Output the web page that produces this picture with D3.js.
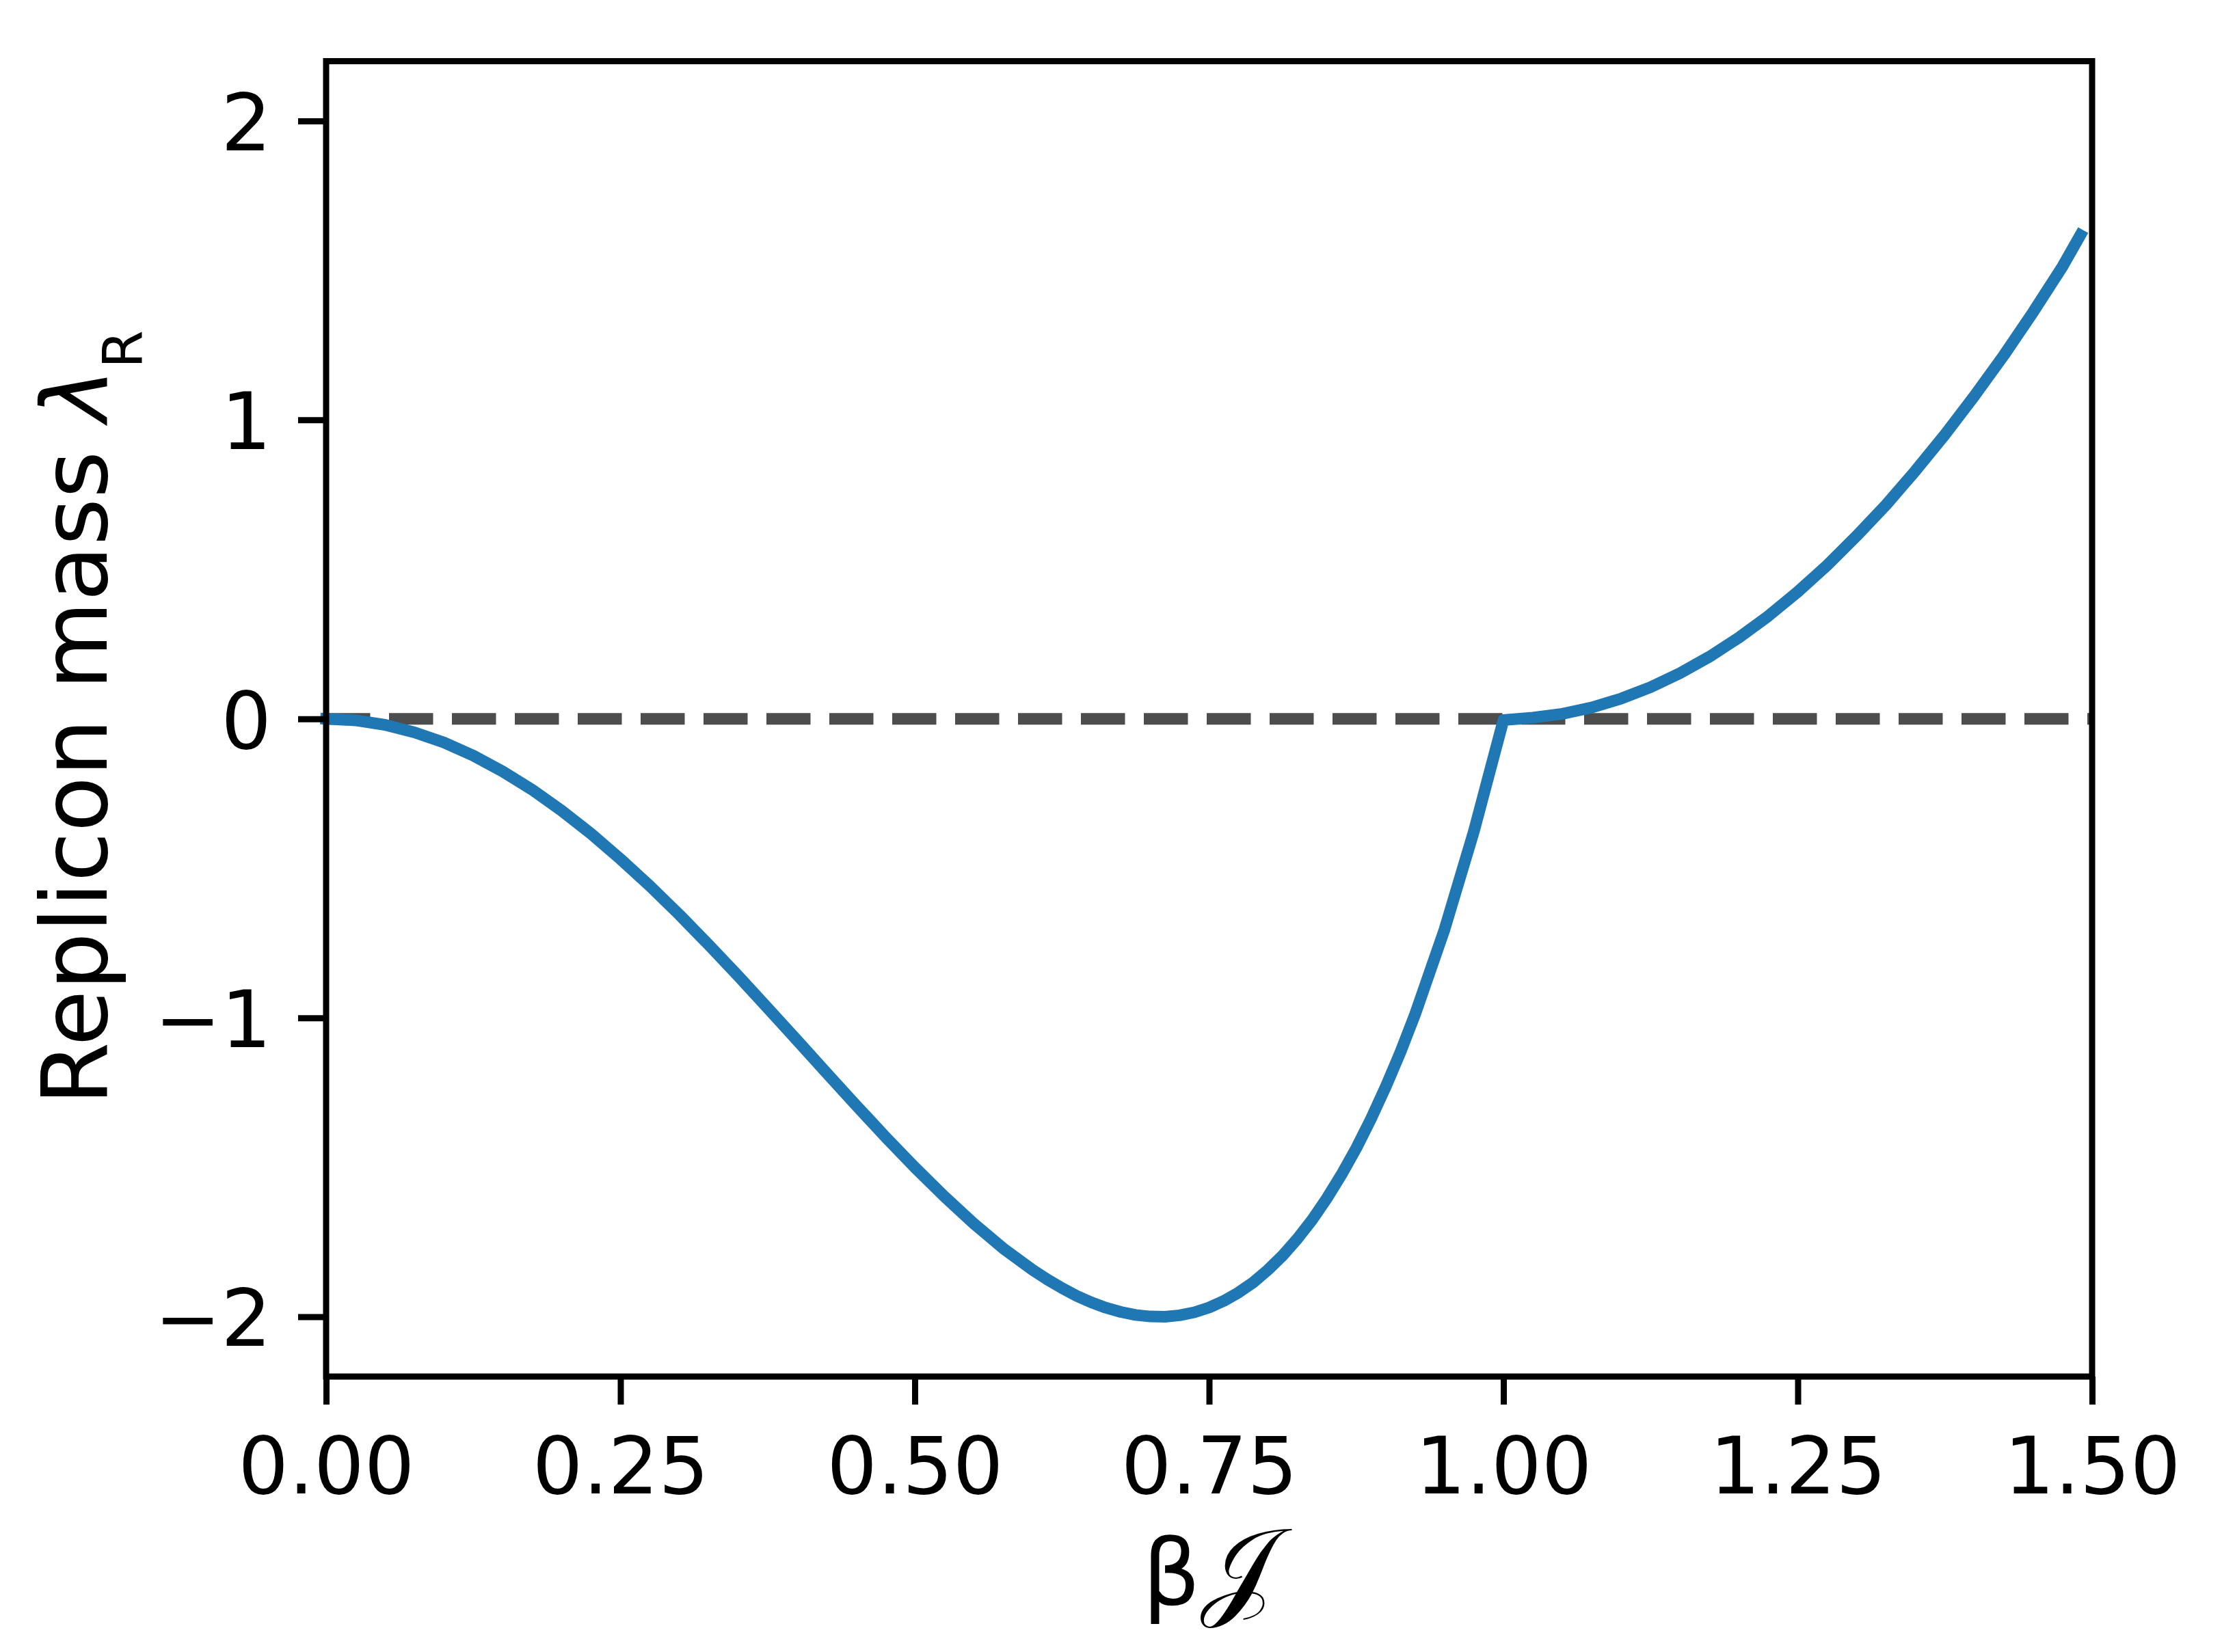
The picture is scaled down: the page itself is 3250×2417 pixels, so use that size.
<!DOCTYPE html>
<html>
<head>
<meta charset="utf-8">
<script src="https://cdn.jsdelivr.net/npm/d3@7/dist/d3.min.js"></script>
<style>
  html, body { margin: 0; padding: 0; background: #ffffff; }
  svg { display: block; }
</style>
</head>
<body>
<div id="chart"></div>
<script>
// ---------------- data ----------------
const betaLow = [0, 0.025, 0.05, 0.075, 0.1, 0.125, 0.15, 0.175, 0.2, 0.225, 0.25, 0.275, 0.3,
  0.325, 0.35, 0.375, 0.4, 0.425, 0.45, 0.475, 0.5, 0.525, 0.55, 0.575, 0.6, 0.6125, 0.625,
  0.6375, 0.65, 0.6625, 0.675, 0.6875, 0.7, 0.7125, 0.725, 0.7375, 0.75, 0.7625, 0.775,
  0.7875, 0.8, 0.8125, 0.825, 0.8375, 0.85, 0.8625, 0.875, 0.8875, 0.9, 0.9125, 0.925,
  0.95, 0.975, 1.0];
const massLow = [0, -0.005, -0.020, -0.045, -0.079, -0.123, -0.176, -0.237, -0.307, -0.384,
  -0.469, -0.559, -0.655, -0.756, -0.860, -0.967, -1.075, -1.184, -1.292, -1.398, -1.500,
  -1.597, -1.688, -1.771, -1.843, -1.875, -1.904, -1.930, -1.952, -1.970, -1.984, -1.994,
  -1.999, -2.000, -1.995, -1.985, -1.969, -1.947, -1.919, -1.885, -1.843, -1.795, -1.739,
  -1.676, -1.604, -1.524, -1.436, -1.338, -1.231, -1.115, -0.988, -0.704, -0.375, -0.004];
const betaHigh = [1.025, 1.05, 1.075, 1.1, 1.125, 1.15, 1.175, 1.2, 1.225, 1.25, 1.275, 1.3,
  1.325, 1.35, 1.375, 1.4, 1.425, 1.45, 1.475, 1.49];
const massHigh = [0.004, 0.017, 0.038, 0.068, 0.106, 0.153, 0.208, 0.272, 0.344, 0.425, 0.514,
  0.612, 0.716, 0.830, 0.951, 1.080, 1.216, 1.361, 1.514, 1.618];
const xTickValues = [0, 0.25, 0.5, 0.75, 1.0, 1.25, 1.5];
const xTickLabels = ["0.00", "0.25", "0.50", "0.75", "1.00", "1.25", "1.50"];
const yTickValues = [-2, -1, 0, 1, 2];
const yTickLabels = ["\u22122", "\u22121", "0", "1", "2"];
const xDomain = [0, 1.5];
const yDomain = [-2.2, 2.2];
const referenceLevel = [0];

// ---------------- layout ----------------
const W = 3250, H = 2417;
const L = 477, R = 3060, T = 89.5, B = 2014;
const spineW = 9, lineW = 17, tickLen = 41;
const tickFont = 116, labelFont = 133;
const FONT = "'DejaVu Sans', sans-serif";

const svg = d3.select("#chart").append("svg")
  .attr("width", W).attr("height", H)
  .attr("viewBox", `0 0 ${W} ${H}`);
svg.append("rect").attr("width", W).attr("height", H).attr("fill", "#ffffff");

const x = d3.scaleLinear().domain(xDomain).range([L, R]);
const y = d3.scaleLinear().domain(yDomain).range([B, T]);

const series = betaLow.map((b, i) => ({ b, v: massLow[i] }))
  .concat(betaHigh.map((b, i) => ({ b, v: massHigh[i] })));

// dashed reference line at 0
svg.append("g").selectAll("line").data(referenceLevel).join("line")
  .attr("x1", x(xDomain[0])).attr("x2", x(xDomain[1]))
  .attr("y1", d => y(d)).attr("y2", d => y(d))
  .attr("stroke", "#4d4d4d")
  .attr("stroke-width", lineW)
  .attr("stroke-dasharray", "64.5,27.5");

// main curve
const line = d3.line().x(d => x(d.b)).y(d => y(d.v));
svg.append("path").datum(series)
  .attr("d", line)
  .attr("fill", "none")
  .attr("stroke", "#1f77b4")
  .attr("stroke-width", lineW)
  .attr("stroke-linejoin", "round")
  .attr("stroke-linecap", "square");

// axes
const xAxis = d3.axisBottom(x).tickValues(xTickValues)
  .tickFormat((d, i) => xTickLabels[i]).tickSize(tickLen).tickPadding(0);
const gx = svg.append("g").attr("transform", `translate(0,${B})`).call(xAxis);
gx.select(".domain").remove();
gx.selectAll(".tick line").attr("stroke", "#000").attr("stroke-width", spineW);
gx.selectAll(".tick text")
  .attr("y", 171).attr("dy", null)
  .attr("fill", "#000")
  .style("font-family", FONT).style("font-size", tickFont + "px");

const yAxis = d3.axisLeft(y).tickValues(yTickValues)
  .tickFormat((d, i) => yTickLabels[i]).tickSize(tickLen).tickPadding(0);
const gy = svg.append("g").attr("transform", `translate(${L},0)`).call(yAxis);
gy.select(".domain").remove();
gy.selectAll(".tick line").attr("stroke", "#000").attr("stroke-width", spineW);
gy.selectAll(".tick text")
  .attr("x", -80).attr("dy", "0.365em")
  .attr("fill", "#000")
  .style("font-family", FONT).style("font-size", tickFont + "px");

// frame (spines)
svg.append("rect")
  .attr("x", L).attr("y", T)
  .attr("width", R - L).attr("height", B - T)
  .attr("fill", "none").attr("stroke", "#000").attr("stroke-width", spineW)
  .attr("stroke-linejoin", "miter");

// x label
const xl = svg.append("text")
  .attr("x", (L + R) / 2).attr("y", 2348)
  .attr("text-anchor", "middle")
  .style("font-family", FONT).style("font-size", labelFont + "px").attr("fill", "#000");
xl.append("tspan").text("\u03B2");
xl.append("tspan")
  .style("font-family", "'DejaVu Serif', 'Noto Sans', 'DejaVu Sans', serif")
  .style("font-size", "160px")
  .text("\uD835\uDCA5");

// y label
const yl = svg.append("text")
  .attr("transform", `translate(156,1050) rotate(-90)`)
  .attr("text-anchor", "middle")
  .style("font-family", FONT).style("font-size", labelFont + "px").attr("fill", "#000");
yl.append("tspan").text("Replicon mass ");
yl.append("tspan").style("font-style", "italic").text("\u03BB");
yl.append("tspan").attr("dy", 52).style("font-size", "80px").text("R");
</script>
</body>
</html>
